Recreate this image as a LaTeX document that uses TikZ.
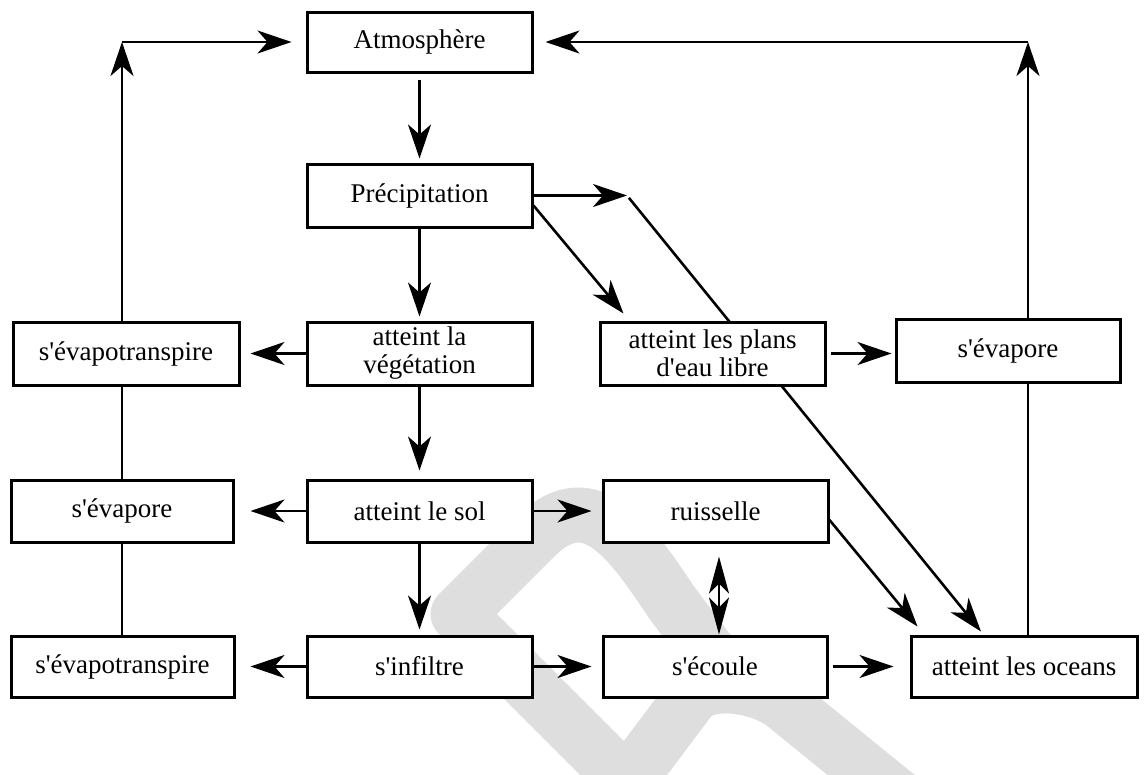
\documentclass[tikz,border=0pt]{standalone}
\usepackage{fontspec}
\setmainfont{Liberation Serif}
\usetikzlibrary{arrows.meta}
\definecolor{wm}{RGB}{222,222,222}
\pgfdeclarelayer{wmlayer}
\pgfdeclarelayer{bglayer}
\pgfsetlayers{wmlayer,bglayer,main}
\newcommand{\ap}{\textquotesingle}
\begin{document}
\begin{tikzpicture}[x=1pt,y=-1pt,
  box/.style={draw, line width=3pt, fill=white, inner sep=0pt, align=center,
    font=\fontsize{27pt}{28pt}\selectfont, minimum width=225pt, minimum height=63pt},
  conn/.style={line width=2.6pt},
  arr/.style={conn, -{Stealth[length=34pt,width=23pt,inset=10pt]}},
  dbl/.style={conn, {Stealth[length=37pt,width=20pt,inset=10pt]}-{Stealth[length=37pt,width=20pt,inset=10pt]}},
  wmark/.style={draw=wm, line width=55pt, line join=round}
]
\useasboundingbox (0,0) rectangle (1145,774);

% watermark
\begin{pgfonlayer}{wmlayer}
\begin{scope}
\clip (0,0) rectangle (1145,774);
\draw[wmark] (652,808) -- (458,614) -- (535,537) .. controls (590,482) and (630,540) .. (672,603) -- (730,680);
\draw[wmark] (614,800) -- (689,700) .. controls (707,676) and (762,686) .. (785,705) -- (902,800);
\end{scope}
\end{pgfonlayer}

% nodes
\node[box, minimum height=60pt] (atm) at (419.5,42) {Atmosphère};
\node[box] (prec) at (419.5,195.5) {Précipitation};
\node[box, minimum width=226pt] (evt1) at (126,353.5) {s\ap évapotranspire};
\node[box] (veg) at (419.5,353.5) {atteint la\\végétation};
\node[box] (plans) at (712.5,353.5) {atteint les plans\\d\ap eau libre};
\node[box, minimum width=224pt] (evap2) at (1008,350.5) {s\ap évapore};
\node[box, minimum width=222pt, minimum height=62pt] (evap1) at (122,511) {s\ap évapore};
\node[box, minimum height=62pt] (sol) at (419.5,511) {atteint le sol};
\node[box, minimum height=62pt] (ruis) at (715.5,511) {ruisselle};
\node[box, minimum width=223pt, minimum height=61pt] (evt2) at (122.5,666.5) {s\ap évapotranspire};
\node[box, minimum height=61pt] (infil) at (419.5,666.5) {s\ap infiltre};
\node[box, minimum width=224pt, minimum height=61pt] (ecoule) at (715,666.5) {s\ap écoule};
\node[box, minimum width=226pt, minimum height=61pt] (ocean) at (1024,666.5) {atteint les oceans};

\coordinate (cTL) at (122,42);
\coordinate (cTR) at (1028,42);
\coordinate (cP) at (627,195.5);

% connectors
\draw[arr] (cTL |- evt1.north) -- (cTL);
\draw[arr, shorten >=14pt] (cTL) -- (atm.west);
\draw[arr] (cTR |- evap2.north) -- (cTR);
\draw[arr, shorten >=12pt] (cTR) -- (atm.east);
\draw[arr, shorten <=6pt, shorten >=4pt] (atm.south) -- (prec.north);
\draw[arr, shorten >=4pt] (prec.south) -- (veg.north);
\draw[arr] (prec.east) -- (cP);
\begin{pgfonlayer}{bglayer}
\draw[arr, shorten <=3pt] (cP) -- ([xshift=-43pt,yshift=3pt]ocean.north);
\end{pgfonlayer}
\draw[arr] ([yshift=-10pt]prec.east) -- ([xshift=25pt,yshift=7pt]plans.north west);
\draw[arr, shorten >=10pt] (veg.west) -- (evt1.east);
\draw[arr, shorten <=4pt, shorten >=3pt] (plans.east) -- (plans.east -| evap2.west);
\draw[conn] (cTL |- evt1.south) -- (cTL |- evap1.north);
\draw[conn] (cTL |- evap1.south) -- (cTL |- evt2.north);
\draw[arr, shorten >=8pt] (veg.south) -- (sol.north);
\draw[arr, shorten >=16pt] (sol.west) -- (evap1.east);
\draw[arr, shorten >=10pt] (sol.east) -- (ruis.west);
\draw[arr, shorten >=5pt] (sol.south) -- (infil.north);
\draw[arr, shorten >=15pt] (infil.west) -- (evt2.east);
\draw[arr, shorten >=10pt] (infil.east) -- (ecoule.west);
\draw[arr, shorten <=4pt, shorten >=16pt] (ecoule.east) -- (ocean.west);
\draw[dbl, shorten <=13pt] ([xshift=3.5pt]ruis.south) -- ([xshift=4pt]ecoule.north);
\draw[arr] ([yshift=-9pt]ruis.east) -- ([xshift=8pt,yshift=8pt]ocean.north west);
\draw[conn] (cTR |- evap2.south) -- (cTR |- ocean.north);
\end{tikzpicture}
\end{document}
